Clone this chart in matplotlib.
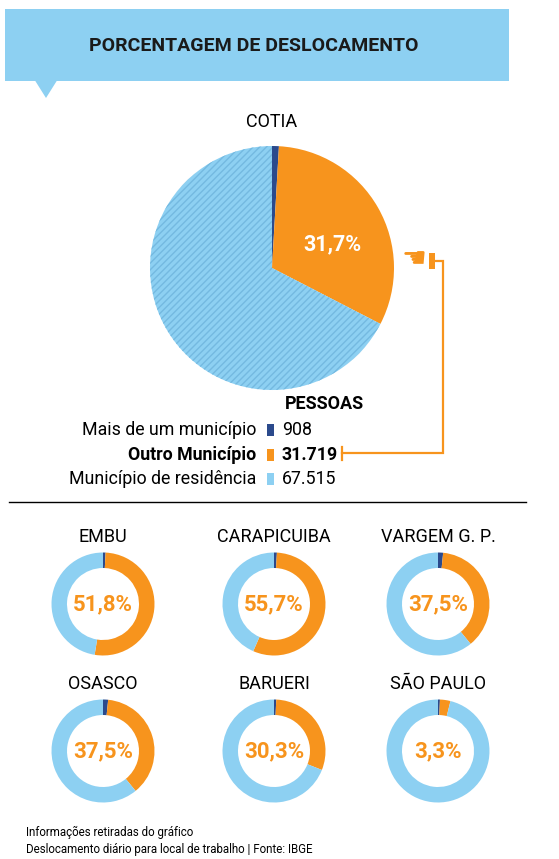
import matplotlib
matplotlib.use("Agg")
import matplotlib.pyplot as plt
from matplotlib.patches import Rectangle, Polygon

W, H = 559, 859

# dados
titulo = "PORCENTAGEM DE DESLOCAMENTO"
cotia_nome = "COTIA"
cotia_labels = ["Mais de um município", "Outro Município", "Município de residência"]
cotia_pessoas = [908, 31719, 67515]
cotia_pct_txt = "31,7%"

cidades = ["EMBU", "CARAPICUIBA", "VARGEM G. P.", "OSASCO", "BARUERI", "SÃO PAULO"]
pct_outro = [51.8, 55.7, 37.5, 37.5, 30.3, 3.3]
pct_mais = [0.8, 0.9, 1.6, 1.6, 0.7, 0.6]

fonte_txt = ["Informações retiradas do gráfico",
             "Deslocamento diário para local de trabalho | Fonte: IBGE"]

AZUL = "#8dd0f2"
AZUL_ESC = "#74b9e0"
LARANJA = "#f7941d"
MARINHO = "#2b4a8c"
cores = [MARINHO, LARANJA, AZUL]

NARROW = ["Roboto", "DejaVu Sans"]
plt.rcParams["hatch.linewidth"] = 1.0


def Y(py):
    return H - py


def br(n):
    return f"{n:,}".replace(",", ".")


fig = plt.figure(figsize=(W / 100, H / 100), dpi=100)
ax = fig.add_axes([0, 0, 1, 1])

# faixa do titulo
ax.add_patch(Rectangle((5, Y(81)), 504, 72, color=AZUL, lw=0))
ax.add_patch(Polygon([(35, Y(80.5)), (57, Y(80.5)), (46, Y(98))], color=AZUL, lw=0))
ax.text(254, Y(46), titulo, family="Roboto", weight="bold", fontsize=14,
        color="#1a1a1a", ha="center", va="center")

# pizza de Cotia
ax.text(272, Y(122), cotia_nome, family=NARROW, fontsize=13, ha="center", va="center")
wedges, _ = ax.pie(cotia_pessoas, colors=cores, startangle=90, counterclock=False,
                   center=(272, Y(268)), radius=122, wedgeprops=dict(linewidth=0))
wedges[2].set_hatch("/////")
wedges[2].set_edgecolor(AZUL_ESC)
wedges[2].set_linewidth(0)
ax.text(332, Y(244), cotia_pct_txt, family="Roboto", weight="bold", fontsize=15.5,
        color="white", ha="center", va="center")

# mao e conector
ax.text(414, Y(259), "\u261a", family="DejaVu Sans", fontsize=20, color=LARANJA,
        ha="center", va="center")
ax.add_patch(Rectangle((429, Y(269)), 6, 16, color=LARANJA, lw=0))
ax.plot([435, 443, 443, 342], [Y(261), Y(261), Y(453), Y(453)], color=LARANJA, lw=1.6,
        solid_joinstyle="miter")
ax.plot([342, 342], [Y(447), Y(460)], color=LARANJA, lw=1.6)

# legenda
ax.text(285, Y(404), "PESSOAS", family=NARROW, weight="bold", fontsize=13, va="center")
for i, (lab, val) in enumerate(zip(cotia_labels, cotia_pessoas)):
    yy = 430 + i * 24.5
    peso = "bold" if i == 1 else "normal"
    ax.text(256, Y(yy), lab, family=NARROW, weight=peso, fontsize=12.8, ha="right", va="center")
    ax.add_patch(Rectangle((267, Y(yy + 6)), 7, 12, color=cores[i], lw=0))
    ax.text(282, Y(yy), br(val), family=NARROW, weight=peso, fontsize=12.8, va="center")

ax.plot([9, 526], [Y(502), Y(502)], color="black", lw=1)

# rosquinhas
cx = [103, 274, 438]
cy = [604, 751]
for k, nome in enumerate(cidades):
    x0 = cx[k % 3]
    y0 = cy[k // 3]
    ax.text(x0, Y(y0 - 67), nome, family=NARROW, fontsize=13, ha="center", va="center")
    vals = [pct_mais[k], pct_outro[k], 100 - pct_mais[k] - pct_outro[k]]
    ax.pie(vals, colors=cores, startangle=90, counterclock=False, center=(x0, Y(y0)),
           radius=51.5, wedgeprops=dict(width=15.5, linewidth=0))
    ax.text(x0, Y(y0), f"{pct_outro[k]:.1f}%".replace(".", ","), family="Roboto",
            weight="bold", fontsize=16, color=LARANJA, ha="center", va="center")

# rodape
ax.text(26, Y(832), fonte_txt[0], family=NARROW, fontsize=8.3, va="center")
ax.text(26, Y(850), fonte_txt[1], family=NARROW, fontsize=8.3, va="center")

ax.set_xlim(0, W)
ax.set_ylim(0, H)
ax.set_aspect("equal")
ax.axis("off")

fig.savefig("out.png", dpi=100)
